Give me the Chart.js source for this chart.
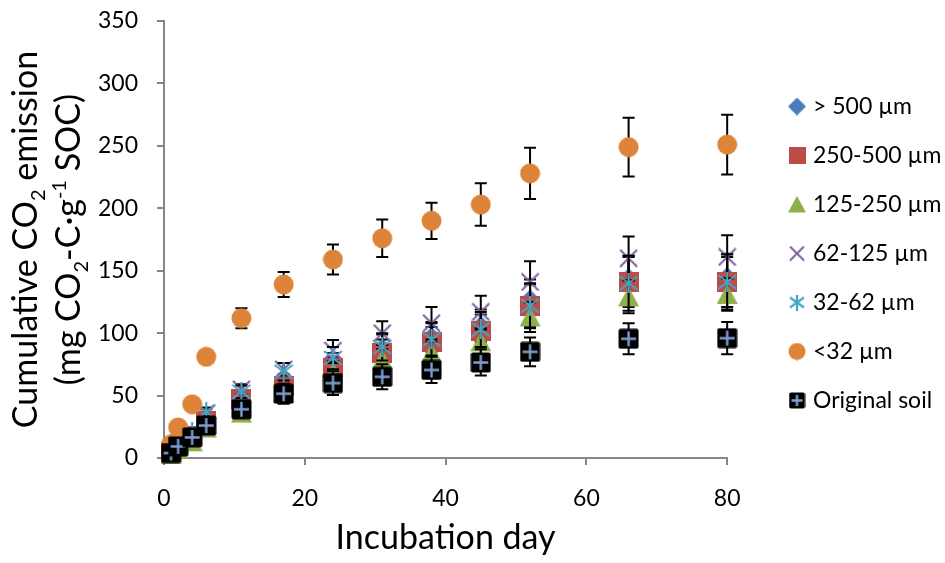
<!DOCTYPE html>
<html>
<head>
<meta charset="utf-8">
<title>Cumulative CO2 emission</title>
<script src="https://cdn.jsdelivr.net/npm/chart.js@4.4.1/dist/chart.umd.min.js"></script>
<style>
  html, body { margin: 0; padding: 0; background: #fff; }
  #wrap { width: 945px; height: 563px; }
</style>
</head>
<body>
<div id="wrap"><canvas id="co2Chart"></canvas></div>
<script>
// incubation days (x)
const days = [1, 2, 4, 6, 11, 17, 24, 31, 38, 45, 52, 66, 80];

// cumulative CO2 (mg CO2-C per g SOC) for each size fraction, with +/- error
const gt500      = [5, 10, 18, 30, 47, 60, 75, 88, 97, 106, 127, 144, 145];
const gt500Err   = [1, 1.5, 2.5, 3.5, 5, 7, 9, 11, 12, 13, 16, 18, 18.5];
const f250_500   = [5, 10, 18, 30, 47, 58, 72, 84, 93, 102, 122, 141, 141];
const f250Err    = [1, 1.5, 2.5, 3.5, 5, 7, 9, 11, 12, 13, 17, 20, 20];
const f125_250   = [3, 7, 13, 24, 36, 52, 69, 79, 84, 93, 113, 129, 131];
const f125Err    = [0.5, 1, 2, 3, 4, 5, 7, 8, 9, 10, 12, 13, 13];
const f62_125    = [6, 12, 21, 36, 55, 71, 86, 100, 108, 117, 141, 160, 161];
const f62Err     = [1, 1.5, 2, 3, 4, 5, 8.5, 9.5, 13, 13, 16.5, 17.5, 17.5];
const f32_62     = [6, 12, 21, 37, 53, 69, 80, 89, 95, 103, 122, 140, 141];
const f32Err     = [1, 1.5, 2.5, 3.5, 5, 7, 9, 11, 13, 14, 18, 22, 22];
const lt32       = [11, 24.5, 43, 81, 112, 139, 159, 176, 190, 203, 228, 249, 251];
const lt32Err    = [1.5, 2, 3, 4, 8, 10, 12, 15, 14.5, 17, 20.5, 23.5, 24];
const original   = [4, 9.3, 16.5, 26, 39, 51.5, 60, 65, 70.5, 76.5, 85, 95.5, 96];
const originalErr = [1, 1.5, 2.5, 3.5, 6, 8, 9.5, 10, 10.5, 10.5, 11.5, 12.5, 13];

const seriesLabels = ['> 500 µm', '250-500 µm', '125-250 µm', '62-125 µm', '32-62 µm', '<32 µm', 'Original soil'];
const seriesValues = [gt500, f250_500, f125_250, f62_125, f32_62, lt32, original];
const seriesErrors = [gt500Err, f250Err, f125Err, f62Err, f32Err, lt32Err, originalErr];

const xTicks = { min: 0, max: 80, step: 20 };
const yTicks = { min: 0, max: 350, step: 50 };

// y title pieces: 0 = normal, 1 = subscript, -1 = superscript
const yTitleLines = [
  [['Cumulative CO', 0], ['2', 1], [' emission', 0]],
  [['(mg CO', 0], ['2', 1], ['-C·g', 0], ['-1', -1], [' SOC)', 0]]
];

Chart.defaults.font.family = 'Lato, "Open Sans", sans-serif';
Chart.defaults.color = '#000';

// marker glyphs, drawn once into small canvases
const markerKinds = ['diamond', 'square', 'triangle', 'x', 'star', 'circle', 'soil'];
const plotSizes   = { diamond: 20, square: 20, triangle: 21, x: 19, star: 20, circle: 21, soil: 21 };
const legendSizes = { diamond: 18, square: 17, triangle: 18, x: 16, star: 16, circle: 18, soil: 17 };

function makeMarker(kind, s) {
  const c = document.createElement('canvas');
  c.width = s;
  c.height = s;
  const g = c.getContext('2d');
  const m = s / 2;
  if (kind === 'diamond') {
    g.fillStyle = '#4a7ebb';
    g.beginPath();
    g.moveTo(m, 0); g.lineTo(s, m); g.lineTo(m, s); g.lineTo(0, m);
    g.closePath();
    g.fill();
  } else if (kind === 'square') {
    g.fillStyle = '#be4b48';
    g.fillRect(0, 0, s, s);
  } else if (kind === 'triangle') {
    g.fillStyle = '#8fae4e';
    g.beginPath();
    g.moveTo(m, 0.5); g.lineTo(s, s - 1); g.lineTo(0, s - 1);
    g.closePath();
    g.fill();
  } else if (kind === 'x') {
    g.strokeStyle = '#7d5fa0';
    g.lineWidth = 2;
    g.beginPath();
    g.moveTo(1, 1); g.lineTo(s - 1, s - 1);
    g.moveTo(s - 1, 1); g.lineTo(1, s - 1);
    g.stroke();
  } else if (kind === 'star') {
    g.strokeStyle = '#46a5c3';
    g.lineWidth = 2.2;
    g.beginPath();
    g.moveTo(1, 3); g.lineTo(s - 1, s - 3);
    g.moveTo(s - 1, 3); g.lineTo(1, s - 3);
    g.moveTo(m, 0); g.lineTo(m, s);
    g.stroke();
  } else if (kind === 'circle') {
    g.fillStyle = '#de8439';
    g.beginPath();
    g.arc(m, m, m - 0.5, 0, Math.PI * 2);
    g.fill();
  } else if (kind === 'soil') {
    g.fillStyle = '#000';
    g.beginPath();
    g.roundRect(0.5, 0.5, s - 1, s - 1, 2);
    g.fill();
    g.strokeStyle = '#7f9dd0';
    g.lineWidth = 2.4;
    g.beginPath();
    g.moveTo(m, 3); g.lineTo(m, s - 3);
    g.moveTo(3, m); g.lineTo(s - 3, m);
    g.stroke();
  }
  return c;
}

const plotMarks = markerKinds.map(k => makeMarker(k, plotSizes[k]));
const legendMarks = markerKinds.map(k => makeMarker(k, legendSizes[k]));

// black error bars, drawn just under each series' markers
const errorBars = {
  id: 'errorBars',
  beforeDatasetDraw(chart, args) {
    const ds = chart.data.datasets[args.index];
    if (!ds.errors) return;
    const { ctx, scales: { x, y } } = chart;
    ctx.save();
    ctx.strokeStyle = '#000';
    ctx.lineWidth = 2;
    ds.data.forEach((p, i) => {
      const e = ds.errors[i];
      const px = x.getPixelForValue(p.x);
      const top = y.getPixelForValue(p.y + e);
      const bot = y.getPixelForValue(p.y - e);
      ctx.beginPath();
      ctx.moveTo(px, top); ctx.lineTo(px, bot);
      ctx.moveTo(px - 6, top); ctx.lineTo(px + 6, top);
      ctx.moveTo(px - 6, bot); ctx.lineTo(px + 6, bot);
      ctx.stroke();
    });
    ctx.restore();
  }
};

// rotated two-line y title with sub/superscripts
const yTitle = {
  id: 'yTitle',
  afterDraw(chart) {
    const ctx = chart.ctx;
    const mid = (chart.chartArea.top + chart.chartArea.bottom) / 2;
    const baselines = [37, 80];
    const fontFor = lvl => (lvl === 0 ? '34px' : '20px') + ' ' + Chart.defaults.font.family;
    ctx.save();
    ctx.fillStyle = '#000';
    ctx.textBaseline = 'alphabetic';
    yTitleLines.forEach((parts, k) => {
      let total = 0;
      parts.forEach(([t, lvl]) => { ctx.font = fontFor(lvl); total += ctx.measureText(t).width; });
      ctx.save();
      ctx.translate(baselines[k], mid);
      ctx.rotate(-Math.PI / 2);
      let cx = -total / 2;
      parts.forEach(([t, lvl]) => {
        ctx.font = fontFor(lvl);
        const dy = lvl === 1 ? 8 : (lvl === -1 ? -14 : 0);
        ctx.fillText(t, cx, dy);
        cx += ctx.measureText(t).width;
      });
      ctx.restore();
    });
    ctx.restore();
  }
};

// place the legend block beside the plot
const legendPlace = {
  id: 'legendPlace',
  afterLayout(chart) {
    const lg = chart.legend;
    const dx = 766.5 - lg.left;
    const dy = 35 - lg.top;
    lg.left += dx; lg.right += dx;
    lg.top += dy; lg.bottom += dy;
  }
};

const axisGrid = { drawOnChartArea: false, tickLength: 7, color: '#868686', lineWidth: 2 };
const axisBorder = { color: '#868686', width: 2 };

new Chart(document.getElementById('co2Chart'), {
  type: 'scatter',
  data: {
    datasets: seriesLabels.map((label, i) => ({
      label: label,
      data: days.map((d, k) => ({ x: d, y: seriesValues[i][k] })),
      errors: seriesErrors[i],
      pointStyle: plotMarks[i],
      pointRadius: 10,
      pointHoverRadius: 10,
      order: seriesLabels.length - i,
      clip: false
    }))
  },
  options: {
    responsive: true,
    maintainAspectRatio: false,
    animation: false,
    events: [],
    layout: { autoPadding: false, padding: { top: 21, right: 33, bottom: 0, left: 0 } },
    scales: {
      x: {
        type: 'linear',
        min: xTicks.min,
        max: xTicks.max,
        ticks: { stepSize: xTicks.step, padding: 20, font: { size: 23 }, color: '#000' },
        grid: axisGrid,
        border: axisBorder,
        title: { display: true, text: 'Incubation day', font: { size: 34 }, color: '#000', padding: { top: 0, bottom: 5 } },
        afterFit(s) { s.height = 105; }
      },
      y: {
        min: yTicks.min,
        max: yTicks.max,
        ticks: { stepSize: yTicks.step, padding: 19, font: { size: 23 }, color: '#000' },
        grid: axisGrid,
        border: axisBorder,
        afterFit(s) {
          s.width = 164;
          s.paddingTop = 0;
          s.paddingBottom = 0;
        }
      }
    },
    plugins: {
      tooltip: { enabled: false },
      legend: {
        position: 'right',
        fullSize: false,
        labels: {
          usePointStyle: true,
          boxWidth: 9,
          boxHeight: 14,
          padding: 26,
          font: { size: 23 },
          color: '#000',
          sort: (a, b) => a.datasetIndex - b.datasetIndex,
          generateLabels(chart) {
            const items = Chart.defaults.plugins.legend.labels.generateLabels(chart);
            items.forEach(it => { it.pointStyle = legendMarks[it.datasetIndex]; });
            return items;
          }
        }
      }
    }
  },
  plugins: [errorBars, yTitle, legendPlace]
});
</script>
</body>
</html>
